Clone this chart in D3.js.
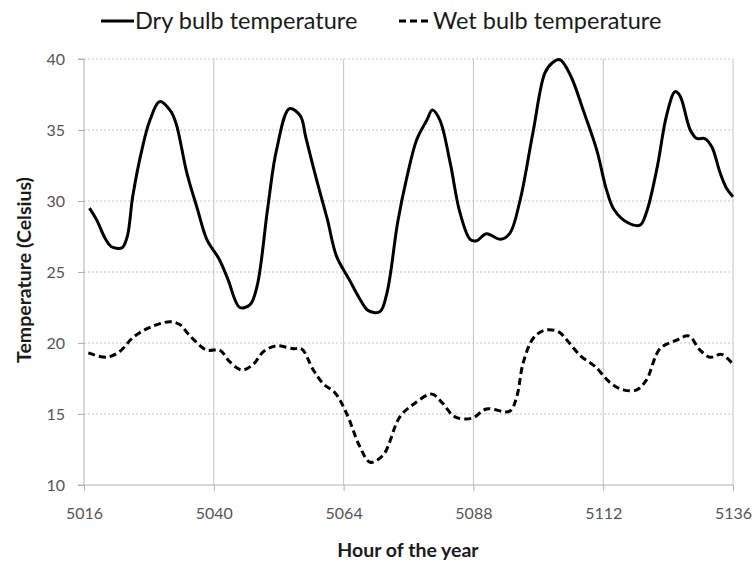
<!DOCTYPE html>
<html>
<head>
<meta charset="utf-8">
<script src="https://cdn.jsdelivr.net/npm/d3@7"></script>
<style>
  body { margin: 0; background: #fff; }
  text { font-family: Lato, "Open Sans", sans-serif; }
</style>
</head>
<body>
<div id="chart"></div>
<script>
// values (hour of year, temperature in C)
const dryHours = [5017, 5018.3, 5020, 5021, 5023, 5024, 5025, 5026.7, 5028.2, 5030,
  5031.9, 5033, 5035, 5037, 5038.7, 5041, 5042.6, 5044.8, 5046.7, 5048,
  5050, 5051.6, 5054, 5056, 5057, 5059, 5061, 5062.7, 5065, 5067,
  5068.5, 5070.7, 5072, 5074, 5075.6, 5077.5, 5079.4, 5080.4, 5081.8, 5083.7,
  5085.5, 5087.4, 5088.6, 5090.4, 5093, 5094.7, 5096.6, 5099, 5101.2, 5102.5,
  5104, 5106, 5108.3, 5110.8, 5112.6, 5114, 5116.4, 5118.8, 5120, 5122,
  5123.7, 5125.3, 5126.2, 5128.1, 5129.3, 5130.8, 5132.1, 5133.6, 5134.8, 5136];
const dryTemps = [29.5, 28.7, 27.3, 26.8, 26.7, 27.5, 30.3, 33.6, 35.7, 37.0,
  36.4, 35.5, 32.0, 29.4, 27.3, 25.9, 24.5, 22.5, 22.7, 24.0,
  29.6, 33.6, 36.5, 36.0, 34.5, 31.5, 28.7, 26.1, 24.5, 23.1,
  22.3, 22.2, 23.5, 28.5, 31.5, 34.3, 35.7, 36.4, 35.7, 32.7,
  29.2, 27.3, 27.2, 27.7, 27.3, 27.7, 30.0, 34.8, 39.0, 39.7,
  39.95, 38.8, 36.4, 33.6, 30.8, 29.4, 28.5, 28.3, 29.2, 32.4,
  36.0, 37.7, 37.4, 35.0, 34.4, 34.4, 33.8, 32.0, 30.9, 30.3];

const wetHours = [5016.8, 5020.2, 5022.6, 5025.1, 5028.2, 5031.9, 5033.7, 5035.6, 5038.7, 5041.1,
  5042.9, 5045.2, 5047.3, 5049.2, 5051.6, 5054.7, 5056.2, 5058.4, 5060.3, 5062.4,
  5064.6, 5067, 5068.9, 5071.3, 5074.4, 5077, 5080.3, 5082.2, 5084.6, 5087.7,
  5090.4, 5094.7, 5096, 5097.2, 5099.1, 5101.2, 5103.7, 5105.3, 5107.8, 5110.5,
  5113.3, 5115.7, 5118.2, 5120, 5122.5, 5125.6, 5127.8, 5129.9, 5131.8, 5133.9, 5136];
const wetTemps = [19.3, 19.0, 19.4, 20.4, 21.1, 21.5, 21.3, 20.5, 19.5, 19.5,
  18.7, 18.1, 18.5, 19.4, 19.8, 19.6, 19.6, 18.1, 17.1, 16.5,
  15.0, 12.7, 11.6, 12.1, 14.8, 15.7, 16.4, 15.8, 14.8, 14.7,
  15.35, 15.2, 16.2, 18.6, 20.35, 20.9, 20.8, 20.2, 19.1, 18.35,
  17.2, 16.7, 16.7, 17.4, 19.6, 20.2, 20.5, 19.5, 19.0, 19.2, 18.5];

const xTicks = [5016, 5040, 5064, 5088, 5112, 5136];
const yTicks = [10, 15, 20, 25, 30, 35, 40];
const seriesNames = ['Dry bulb temperature', 'Wet bulb temperature'];

const svgWidth = 753;
const svgHeight = 562;
const plot = { left: 84, right: 733, top: 59, bottom: 485 };

const svg = d3.select('#chart')
  .append('svg')
  .attr('width', svgWidth)
  .attr('height', svgHeight);

const x = d3.scaleLinear().domain([5016, 5136]).range([plot.left, plot.right]);
const y = d3.scaleLinear().domain([10, 40]).range([plot.bottom, plot.top]);

// horizontal dotted grid
svg.append('g')
  .selectAll('line')
  .data(yTicks.slice(1))
  .join('line')
    .attr('x1', plot.left)
    .attr('x2', plot.right)
    .attr('y1', d => y(d))
    .attr('y2', d => y(d))
    .attr('stroke', '#c4c4c4')
    .attr('stroke-dasharray', '2,2');

// vertical solid grid
svg.append('g')
  .selectAll('line')
  .data(xTicks.slice(1))
  .join('line')
    .attr('x1', d => x(d))
    .attr('x2', d => x(d))
    .attr('y1', plot.top)
    .attr('y2', plot.bottom)
    .attr('stroke', '#c4c4c4');

const yAxis = d3.axisLeft(y).tickValues(yTicks).tickSize(6).tickPadding(13);
const xAxis = d3.axisBottom(x).tickValues(xTicks).tickFormat(d3.format('d')).tickSize(6).tickPadding(17);

const styleAxis = g => {
  g.select('.domain').attr('stroke', '#b0b0b0');
  g.selectAll('.tick line').attr('stroke', '#b0b0b0');
  g.selectAll('.tick text')
    .attr('fill', '#555')
    .style('font-size', '16px')
    .style('font-family', 'Lato, sans-serif');
};

svg.append('g')
  .attr('class', 'axis axis--y')
  .attr('transform', `translate(${plot.left},0)`)
  .call(yAxis)
  .call(g => g.select('.domain').attr('d', `M-6,${plot.top}H0V${plot.bottom}H-6`))
  .call(styleAxis);

svg.append('g')
  .attr('class', 'axis axis--x')
  .attr('transform', `translate(0,${plot.bottom})`)
  .call(xAxis)
  .call(g => g.select('.domain').attr('d', `M${plot.left},0H${plot.right}`))
  .call(styleAxis);

const line = d3.line()
  .curve(d3.curveCatmullRom.alpha(0.5))
  .x(d => x(d[0]))
  .y(d => y(d[1]));

const dry = dryHours.map((h, i) => [h, dryTemps[i]]);
const wet = wetHours.map((h, i) => [h, wetTemps[i]]);

svg.append('path')
  .datum(dry)
  .attr('fill', 'none')
  .attr('stroke', '#000')
  .attr('stroke-width', 3)
  .attr('d', line);

svg.append('path')
  .datum(wet)
  .attr('fill', 'none')
  .attr('stroke', '#000')
  .attr('stroke-width', 3)
  .attr('stroke-dasharray', '7,4')
  .attr('d', line);

// axis titles
svg.append('text')
  .attr('x', 408)
  .attr('y', 557)
  .attr('text-anchor', 'middle')
  .style('font-size', '19.5px')
  .style('font-weight', 'bold')
  .attr('fill', '#1a1a1a')
  .text('Hour of the year');

svg.append('text')
  .attr('transform', `translate(31,270) rotate(-90)`)
  .attr('text-anchor', 'middle')
  .style('font-size', '19.5px')
  .style('font-weight', 'bold')
  .attr('fill', '#1a1a1a')
  .text('Temperature (Celsius)');

// legend
const legend = svg.append('g').attr('class', 'legend');
const legendItems = [
  { name: seriesNames[0], x: 101, dash: null },
  { name: seriesNames[1], x: 399, dash: '7,4' }
];
legendItems.forEach(it => {
  legend.append('line')
    .attr('x1', it.x)
    .attr('x2', it.x + 33)
    .attr('y1', 21)
    .attr('y2', 21)
    .attr('stroke', '#000')
    .attr('stroke-width', 3)
    .attr('stroke-dasharray', it.dash);
  legend.append('text')
    .attr('x', it.x + 34)
    .attr('y', 29)
    .style('font-size', '23.5px')
    .attr('fill', '#1a1a1a')
    .text(it.name);
});
</script>
</body>
</html>
